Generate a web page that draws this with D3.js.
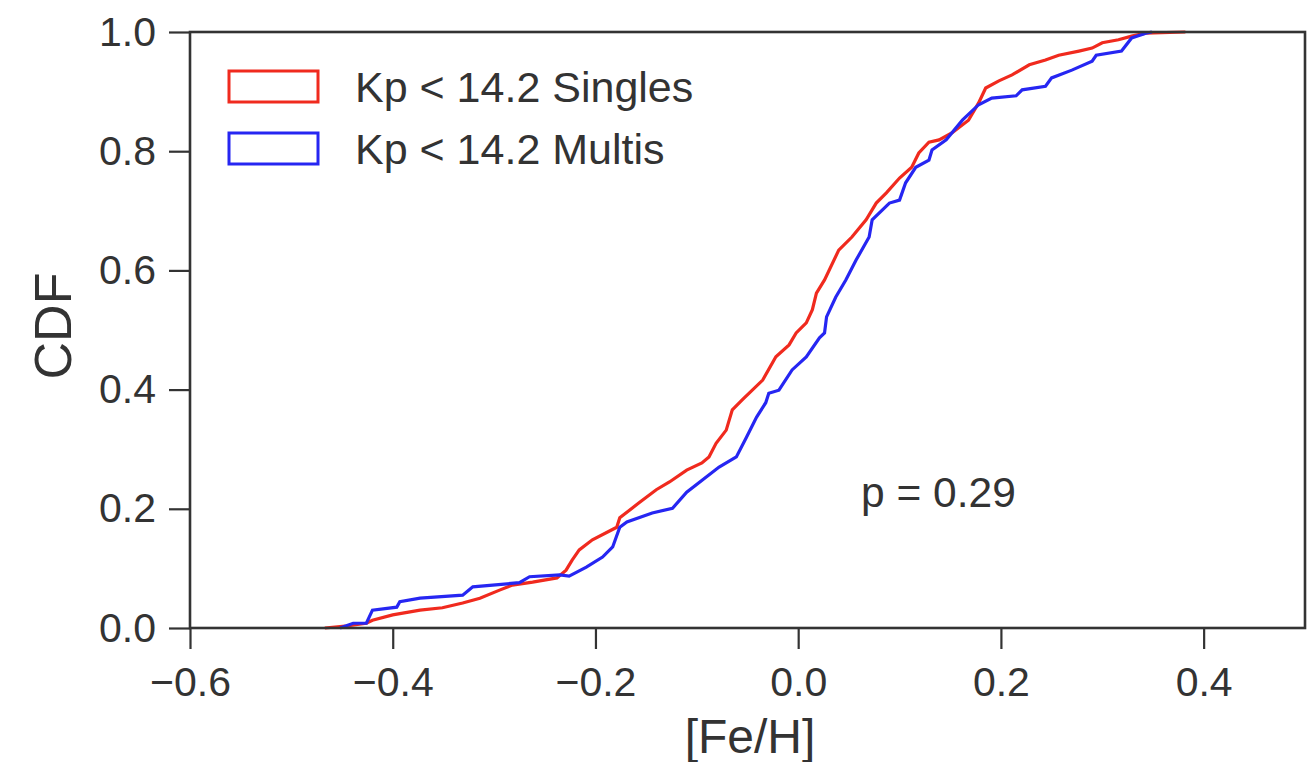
<!DOCTYPE html>
<html>
<head>
<meta charset="utf-8">
<script src="https://cdn.jsdelivr.net/npm/d3@7"></script>
<style>
  html, body { margin: 0; padding: 0; background: #fff; }
  svg { display: block; }
  text { font-family: "Liberation Sans", Arial, sans-serif; fill: #333; }
</style>
</head>
<body>
<svg id="chart" width="1309" height="762"></svg>
<script>
// ---- Data (ECDF vertices) ----
const seriesNames = ["Kp < 14.2 Singles", "Kp < 14.2 Multis"];
const seriesColors = ["#f02a1e", "#2626f2"];

const singlesFeH = [-0.467,-0.447,-0.426,-0.420,-0.400,-0.373,-0.351,-0.331,-0.314,-0.294,-0.282,-0.262,-0.238,-0.229,-0.223,-0.216,-0.203,-0.179,-0.176,-0.157,-0.140,-0.127,-0.110,-0.095,-0.088,-0.081,-0.071,-0.065,-0.055,-0.035,-0.022,-0.009,-0.002,0.008,0.014,0.018,0.026,0.040,0.053,0.067,0.077,0.087,0.100,0.112,0.119,0.129,0.139,0.152,0.168,0.178,0.185,0.198,0.211,0.228,0.244,0.257,0.277,0.290,0.300,0.316,0.329,0.343,0.382];
const singlesCDF = [0.000,0.003,0.008,0.013,0.022,0.030,0.034,0.042,0.050,0.064,0.072,0.077,0.084,0.097,0.114,0.131,0.148,0.169,0.185,0.210,0.232,0.245,0.265,0.277,0.287,0.310,0.332,0.366,0.383,0.416,0.455,0.475,0.495,0.512,0.534,0.562,0.584,0.634,0.656,0.685,0.713,0.730,0.755,0.773,0.797,0.815,0.819,0.831,0.852,0.881,0.906,0.918,0.928,0.945,0.953,0.961,0.968,0.973,0.982,0.987,0.993,0.998,1.000];

const multisFeH = [-0.452,-0.439,-0.426,-0.420,-0.396,-0.393,-0.373,-0.331,-0.321,-0.275,-0.265,-0.235,-0.226,-0.209,-0.193,-0.183,-0.176,-0.169,-0.144,-0.124,-0.110,-0.091,-0.078,-0.061,-0.051,-0.041,-0.032,-0.029,-0.019,-0.006,0.008,0.021,0.026,0.028,0.037,0.047,0.057,0.070,0.073,0.090,0.100,0.106,0.116,0.129,0.132,0.146,0.162,0.178,0.191,0.215,0.221,0.244,0.250,0.270,0.290,0.294,0.319,0.329,0.343,0.349];
const multisCDF = [0.000,0.008,0.008,0.030,0.035,0.044,0.050,0.055,0.069,0.076,0.086,0.089,0.087,0.102,0.119,0.136,0.169,0.178,0.193,0.201,0.228,0.253,0.270,0.287,0.320,0.354,0.378,0.394,0.399,0.433,0.455,0.487,0.495,0.522,0.555,0.584,0.617,0.656,0.685,0.713,0.718,0.747,0.773,0.785,0.802,0.819,0.852,0.878,0.889,0.893,0.903,0.909,0.923,0.936,0.951,0.961,0.968,0.990,0.998,1.000];

const xTicks = [-0.6, -0.4, -0.2, 0.0, 0.2, 0.4];
const yTicks = [0.0, 0.2, 0.4, 0.6, 0.8, 1.0];
const xLabel = "[Fe/H]";
const yLabel = "CDF";
const annotation = "p = 0.29";

// ---- Layout ----
const W = 1309, H = 762;
const margin = {left: 190, top: 32, right: 4, bottom: 134};
const iw = W - margin.left - margin.right;
const ih = H - margin.top - margin.bottom;

const svg = d3.select("#chart");
const g = svg.append("g").attr("transform", `translate(${margin.left},${margin.top})`);

const x = d3.scaleLinear().domain([-0.6, 0.5]).range([0, iw]);
const y = d3.scaleLinear().domain([0, 1]).range([ih, 0]);

const fmt = d => d3.format(".1f")(d).replace("-", "\u2212");

// Curves
const series = [
  singlesFeH.map((v, i) => [v, singlesCDF[i]]),
  multisFeH.map((v, i) => [v, multisCDF[i]])
];
const line = d3.line().x(d => x(d[0])).y(d => y(d[1])).curve(d3.curveLinear);

series.forEach((s, i) => {
  g.append("path")
    .datum(s)
    .attr("fill", "none")
    .attr("stroke", seriesColors[i])
    .attr("stroke-width", 3.2)
    .attr("stroke-linejoin", "miter")
    .attr("d", line);
});

// Axes
const xAxis = d3.axisBottom(x).tickValues(xTicks).tickFormat(fmt).tickSize(21).tickPadding(18);
const yAxis = d3.axisLeft(y).tickValues(yTicks).tickFormat(fmt).tickSize(21).tickPadding(13);

const gx = g.append("g").attr("transform", `translate(0,${ih})`).call(xAxis);
const gy = g.append("g").call(yAxis);
[gx, gy].forEach(a => {
  a.select(".domain").remove();
  a.selectAll(".tick line").attr("stroke", "#333").attr("stroke-width", 2.2);
  a.selectAll(".tick text").attr("font-size", 41).attr("fill", "#333")
    .style("font-family", "'Liberation Sans', Arial, sans-serif");
});

// Frame
g.append("rect").attr("x", 0).attr("y", 0).attr("width", iw).attr("height", ih)
  .attr("fill", "none").attr("stroke", "#333").attr("stroke-width", 2.6);

// Axis labels
svg.append("text").attr("x", 750).attr("y", 753).attr("text-anchor", "middle")
  .attr("font-size", 48).text(xLabel);
svg.append("text").attr("transform", "translate(71,326) rotate(-90)")
  .attr("text-anchor", "middle").attr("font-size", 52).text(yLabel);

// Annotation
svg.append("text").attr("x", 861).attr("y", 507).attr("font-size", 42.5).text(annotation);

// Legend
const legend = svg.append("g");
seriesNames.forEach((name, i) => {
  const yy = 71 + i * 62;
  legend.append("rect").attr("x", 229).attr("y", yy).attr("width", 89).attr("height", 31)
    .attr("fill", "none").attr("stroke", seriesColors[i]).attr("stroke-width", 3);
  legend.append("text").attr("x", 355).attr("y", yy + 31).attr("font-size", 43).text(name);
});
</script>
</body>
</html>
